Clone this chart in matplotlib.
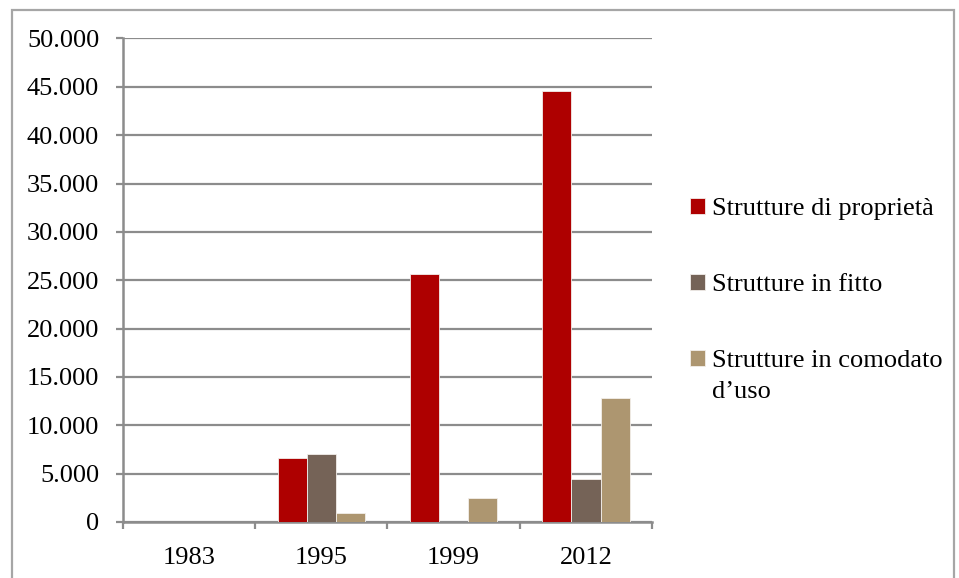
import matplotlib
matplotlib.use("Agg")
import matplotlib.pyplot as plt
import numpy as np
from matplotlib.ticker import FuncFormatter, MultipleLocator, FixedLocator
from matplotlib.patches import Rectangle

years = ["1983", "1995", "1999", "2012"]
series_names = ["Strutture di proprietà", "Strutture in fitto", "Strutture in comodato"]
proprieta = [0, 6600, 25600, 44600]
fitto = [0, 7000, 0, 4400]
comodato = [0, 880, 2500, 12800]
colors = ["#AE0000", "#756357", "#AD9670"]

plt.rcParams["font.family"] = ["Liberation Serif", "DejaVu Serif"]
FS = 19
GRAY = "#8c8c8c"

fig = plt.figure(figsize=(9.59, 5.78), dpi=100)
ax = fig.add_axes([0.128, 0.0969, 0.552, 0.8365])

x = np.arange(len(years))
w = 0.22
for i, (vals, c, name) in enumerate(zip([proprieta, fitto, comodato], colors, series_names)):
    ax.bar(x + (i - 1) * w, vals, width=w, color=c, edgecolor="#f2eeea", linewidth=0.6, label=name, zorder=3)

ax.set_xlim(-0.5, len(years) - 0.5)
ax.set_ylim(0, 50000)
ax.yaxis.set_major_locator(MultipleLocator(5000))
ax.yaxis.set_major_formatter(FuncFormatter(lambda v, p: f"{int(v):,}".replace(",", ".")))
ax.grid(axis="y", color=GRAY, linewidth=1.6, zorder=0)
ax.set_axisbelow(True)

ax.set_xticks(x)
ax.set_xticklabels(years)
ax.xaxis.set_minor_locator(FixedLocator(np.arange(-0.5, len(years), 1.0)))
ax.tick_params(axis="x", which="major", length=0, pad=18, labelsize=FS)
ax.tick_params(axis="x", which="minor", length=5, width=1.6, color=GRAY, direction="out")
ax.tick_params(axis="y", which="major", length=5, width=1.6, color=GRAY, pad=12, labelsize=FS)

for s in ["top", "right"]:
    ax.spines[s].set_visible(False)
for s in ["left", "bottom"]:
    ax.spines[s].set_color(GRAY)
    ax.spines[s].set_linewidth(1.8)

leg = ax.legend(loc="center left", bbox_to_anchor=(0.709, 0.507), bbox_transform=fig.transFigure,
                frameon=False, fontsize=FS, handlelength=0.55, handleheight=0.55,
                handletextpad=0.25, labelspacing=2.03, borderaxespad=0)

fig.canvas.draw()
bb = leg.get_texts()[2].get_window_extent()
inv = fig.transFigure.inverted()
x0, y0 = inv.transform((bb.x0, bb.y0))
fig.text(x0, y0 - 0.016, "d\u2019uso", fontsize=FS, va="top", ha="left")

fig.patches.append(Rectangle((0.012, -0.02), 0.983, 1.003, transform=fig.transFigure,
                             fill=False, edgecolor="#a6a6a6", linewidth=1.6))

fig.savefig("out.png", dpi=100)
